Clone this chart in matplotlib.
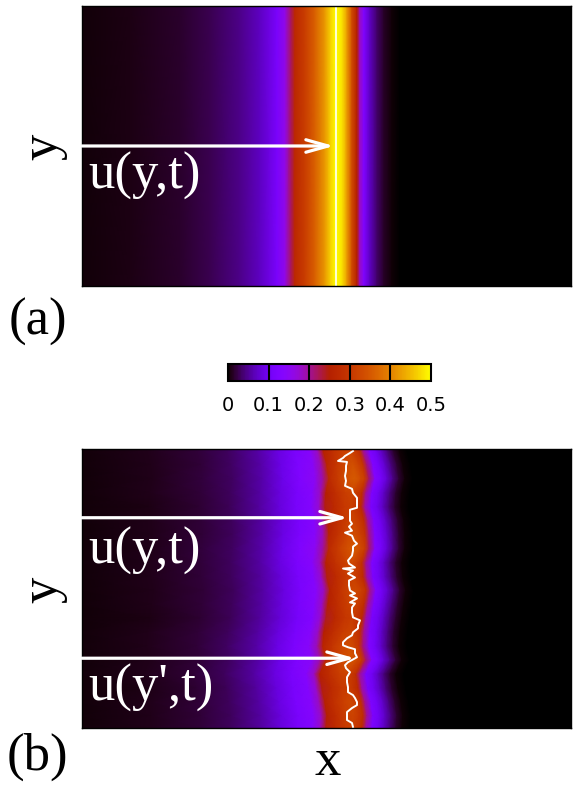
import numpy as np
import matplotlib
matplotlib.use("Agg")
import matplotlib.pyplot as plt
from matplotlib.colors import ListedColormap, Normalize

# lattice extent of the strip (x along the flow, y across it)
LX, LY = 489, 280

# (a) flat front: u(x) is the same on every row
prof_x_a = [-10, 48, 98, 128, 158, 178, 195, 203, 209, 213, 223, 233, 243, 249, 254,
            260, 265, 270, 275, 278, 282, 288, 295, 302, 310, 318, 500]
prof_a = [0.002, 0.006, 0.015, 0.026, 0.045, 0.07, 0.115, 0.16, 0.22, 0.27, 0.31, 0.36,
          0.42, 0.47, 0.50, 0.48, 0.42, 0.33, 0.25, 0.18, 0.125, 0.07, 0.035, 0.012,
          0.003, 0.0, 0.0]

# (b) rough front: mean profile scaled and displaced row by row
prof_x_b = [-10, 68, 118, 148, 178, 198, 215, 230, 238, 244, 253, 263, 270, 276, 280,
            284, 290, 296, 302, 308, 314, 320, 328, 500]
prof_b = [0.003, 0.008, 0.018, 0.03, 0.055, 0.085, 0.115, 0.135, 0.18, 0.25, 0.28, 0.31,
          0.32, 0.30, 0.28, 0.20, 0.12, 0.10, 0.07, 0.04, 0.015, 0.003, 0.0, 0.0]
row_y = [280, 264, 250, 236, 222, 208, 194, 180, 166, 152, 138, 124, 110, 96, 82,
         68, 54, 40, 26, 12, 0]
row_shift = [-3, 1, 3, 0, -1, 2, 3, 3, 0, 1, 4, 2, 0, -2, -3, 0, -6, -4, -1, 1, 0]
row_gain = [1.0, 1.06, 1.1, 1.0, 0.97, 1.0, 1.04, 1.1, 1.02, 0.98, 1.03, 1.0, 0.96,
            1.0, 1.05, 1.08, 1.0, 0.97, 1.02, 1.0, 0.98]

# interface h(y) of the rough front
front_y = [278, 276, 273, 271, 268, 267, 263, 258, 253, 248, 243, 240, 236, 231, 226,
           221, 219, 213, 208, 205, 202, 198, 196, 193, 188, 185, 182, 178, 173, 168,
           165, 161, 160, 158, 155, 151, 148, 143, 138, 135, 133, 130, 126, 125, 121,
           116, 111, 108, 103, 100, 96, 93, 90, 86, 83, 81, 79, 75, 71, 66, 63, 60,
           56, 51, 46, 41, 36, 33, 30, 26, 23, 20, 16, 11, 8, 5, 1]
front_x = [271, 268, 263, 261, 256, 265, 264, 264, 263, 264, 263, 270, 271, 275, 275,
           275, 268, 268, 268, 270, 267, 270, 263, 270, 272, 275, 271, 271, 270, 266,
           267, 273, 261, 271, 266, 273, 267, 267, 268, 273, 268, 275, 268, 273, 270,
           270, 271, 278, 276, 276, 271, 270, 265, 261, 261, 266, 273, 273, 275, 266,
           263, 264, 268, 265, 265, 266, 266, 271, 273, 275, 275, 270, 265, 265, 265,
           270, 271]

# gnuplot's default pm3d palette (rgbformulae 7,5,15)
s = np.linspace(0, 1, 256)
pm3d = ListedColormap(np.column_stack([np.sqrt(s), s ** 3,
                                       np.clip(np.sin(2 * np.pi * s), 0, 1)]))
norm = Normalize(0, 0.5)

fig = plt.figure(figsize=(5.73, 7.87), dpi=100)
ax_a = fig.add_axes([0.1431, 0.6366, 0.8534, 0.3558])
ax_b = fig.add_axes([0.1431, 0.0750, 0.8534, 0.3545])
cax = fig.add_axes([0.3979, 0.5159, 0.3543, 0.0216])

serif = "Liberation Serif"
big = 38
arrow = dict(arrowstyle="->, head_length=1.6, head_width=0.45", color="white",
             lw=2.3, mutation_scale=10, shrinkA=0, shrinkB=0)

# panel (a)
Xa = np.array([prof_x_a, prof_x_a], dtype=float)
Ya = np.array([[0] * len(prof_x_a), [LY] * len(prof_x_a)], dtype=float)
Ca = np.array([prof_a, prof_a])
mesh = ax_a.pcolormesh(Xa, Ya, Ca, cmap=pm3d, norm=norm, shading="gouraud")
x_peak = prof_x_a[int(np.argmax(prof_a))]
ax_a.axvline(x_peak, color="white", lw=1.2)
ax_a.annotate("", xy=(x_peak - 2, 140), xytext=(0, 140), arrowprops=arrow)
ax_a.text(6, 110, "u(y,t)", color="white", fontsize=big, family=serif,
          ha="left", va="center")

# panel (b)
Xb = np.array([[x + d for x in prof_x_b] for d in row_shift], dtype=float)
Yb = np.array([[y] * len(prof_x_b) for y in row_y], dtype=float)
Cb = np.array([[v * g for v in prof_b] for g in row_gain])
ax_b.pcolormesh(Xb, Yb, Cb, cmap=pm3d, norm=norm, shading="gouraud")
ax_b.plot(front_x, front_y, color="white", lw=1.4)
for ya, label, yt in [(211, "u(y,t)", 178), (70, "u(y',t)", 40)]:
    tip = front_x[int(np.argmin(np.abs(np.array(front_y) - ya)))]
    ax_b.annotate("", xy=(tip - 2, ya), xytext=(0, ya), arrowprops=arrow)
    ax_b.text(6, yt, label, color="white", fontsize=big, family=serif,
              ha="left", va="center")

for ax in (ax_a, ax_b):
    ax.set_facecolor("black")
    ax.set_xlim(0, LX)
    ax.set_ylim(0, LY)
    ax.set_xticks([])
    ax.set_yticks([])
    for sp in ax.spines.values():
        sp.set_linewidth(1.0)

# colour key
cb = fig.colorbar(mesh, cax=cax, orientation="horizontal",
                  ticks=[0, 0.1, 0.2, 0.3, 0.4, 0.5])
cb.ax.set_xticklabels(["0", "0.1", "0.2", "0.3", "0.4", "0.5"])
cb.ax.tick_params(length=0, pad=11, labelsize=14)
cb.outline.set_linewidth(1.5)
for v in [0.1, 0.2, 0.3, 0.4]:
    cax.axvline(v, color="black", lw=1.5)

# axis names and panel tags
fig.text(0.076, 0.813, "y", rotation=90, fontsize=big, family=serif,
         ha="center", va="center")
fig.text(0.076, 0.250, "y", rotation=90, fontsize=big, family=serif,
         ha="center", va="center")
fig.text(0.066, 0.591, "(a)", fontsize=big, family=serif, ha="center", va="center")
fig.text(0.066, 0.038, "(b)", fontsize=big, family=serif, ha="center", va="center")
fig.text(0.572, 0.015, "x", fontsize=big, family=serif, ha="center", va="baseline")

fig.savefig("out.png", dpi=100)
